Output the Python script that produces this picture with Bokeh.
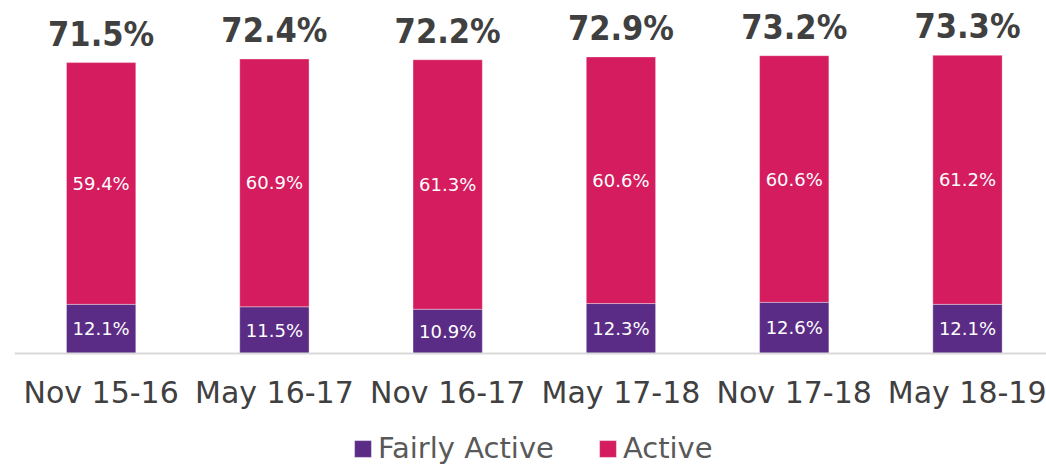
from bokeh.plotting import figure
from bokeh.models import ColumnDataSource, Range1d, FixedTicker, Legend, LegendItem
from bokeh.core.properties import value
from bokeh.embed import file_html
from bokeh.resources import INLINE

categories = ["Nov 15-16", "May 16-17", "Nov 16-17", "May 17-18", "Nov 17-18", "May 18-19"]
fairly_active = [12.1, 11.5, 10.9, 12.3, 12.6, 12.1]
active = [59.4, 60.9, 61.3, 60.6, 60.6, 61.2]
totals = [71.5, 72.4, 72.2, 72.9, 73.2, 73.3]

PURPLE = "#5B2C86"
CRIMSON = "#D41C5E"
DARK = "#404040"
FONT = "DejaVu Sans"

xs = list(range(len(categories)))
src = ColumnDataSource(dict(
    x=xs,
    fairly=fairly_active,
    active=active,
    total=totals,
    fa_mid=[f / 2 for f in fairly_active],
    ac_mid=[f + a / 2 for f, a in zip(fairly_active, active)],
    fa_lbl=[f"{v:.1f}%" for v in fairly_active],
    ac_lbl=[f"{v:.1f}%" for v in active],
    tot_lbl=[f"{v:.1f}%" for v in totals],
))

p = figure(width=1046, height=465, output_backend="svg", toolbar_location=None,
           x_range=Range1d(-0.5, 5.456), y_range=Range1d(-27.5, 84.8),
           min_border_left=14, min_border_right=0, min_border_top=8, min_border_bottom=0)
p.outline_line_color = None
p.background_fill_color = "white"
p.border_fill_color = "white"
p.grid.visible = False
p.yaxis.visible = False

rs = p.vbar_stack(["fairly", "active"], x="x", width=0.4, source=src,
                  fill_color=[PURPLE, CRIMSON], line_color="white", line_alpha=0.35, line_width=1)

p.text(x="x", y="fa_mid", text="fa_lbl", source=src, text_align="center", text_baseline="middle",
       text_color="white", text_font=value(FONT), text_font_size="18px")
p.text(x="x", y="ac_mid", text="ac_lbl", source=src, text_align="center", text_baseline="middle",
       text_color="white", text_font=value(FONT), text_font_size="18px")
p.text(x="x", y="total", text="tot_lbl", source=src, text_align="center", text_baseline="alphabetic",
       y_offset=-29, text_color=DARK, text_font=value("DejaVu Sans Condensed, DejaVu Sans"),
       text_font_style="bold", text_font_size="34px")

ax = p.xaxis[0]
ax.fixed_location = 0
ax.ticker = FixedTicker(ticks=xs)
ax.major_label_overrides = {i: c for i, c in zip(xs, categories)}
ax.major_tick_line_color = None
ax.minor_tick_line_color = None
ax.axis_line_color = "#D9D9D9"
ax.axis_line_width = 2
ax.major_label_text_font = FONT
ax.major_label_text_font_size = "30px"
ax.major_label_text_color = DARK
ax.major_label_standoff = 15

legend = Legend(items=[LegendItem(label="Fairly Active", renderers=[rs[0]]),
                       LegendItem(label="Active", renderers=[rs[1]])],
                orientation="horizontal", location=(338, 0),
                label_text_font=FONT, label_text_font_size="29px", label_text_color="#595959",
                glyph_width=21, glyph_height=21, label_standoff=5, spacing=43,
                padding=0, margin=0, border_line_color=None, background_fill_alpha=0)
p.add_layout(legend, "center")

open("out.html", "w").write(file_html(p, INLINE))
